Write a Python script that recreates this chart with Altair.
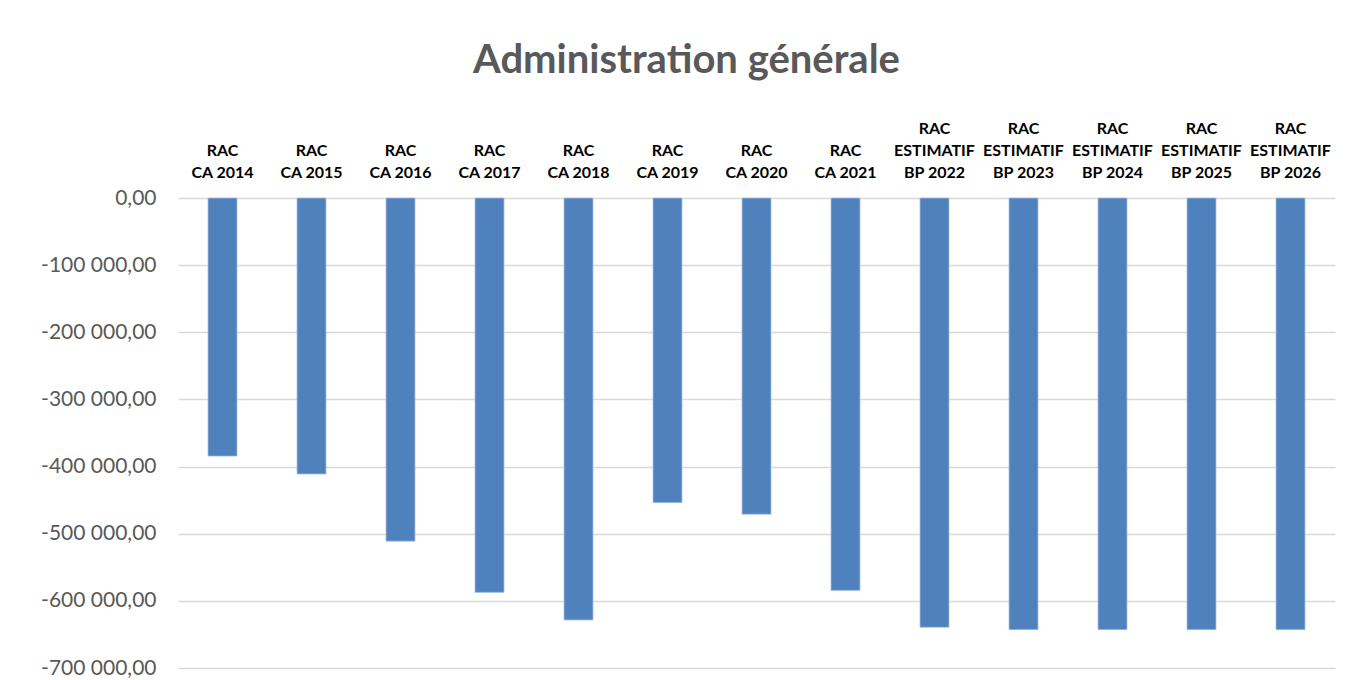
import altair as alt
import pandas as pd

categories = [
    "RAC|CA 2014", "RAC|CA 2015", "RAC|CA 2016", "RAC|CA 2017", "RAC|CA 2018",
    "RAC|CA 2019", "RAC|CA 2020", "RAC|CA 2021",
    "RAC|ESTIMATIF|BP 2022", "RAC|ESTIMATIF|BP 2023", "RAC|ESTIMATIF|BP 2024",
    "RAC|ESTIMATIF|BP 2025", "RAC|ESTIMATIF|BP 2026",
]
values = [
    -384400, -411100, -511100, -587400, -628500,
    -453700, -471000, -584400,
    -639400, -642900, -642900, -642900, -642900,
]
y_ticks = [0, -100000, -200000, -300000, -400000, -500000, -600000, -700000]

df = pd.DataFrame({"cat": categories, "val": values})

label_expr = (
    "(datum.value < 0 ? '-' : '') + "
    "replace(replace(format(abs(datum.value), ',.2f'), /,/g, ' '), '.', ',')"
)
x_label_expr = (
    "indexof(datum.label, 'ESTIMATIF') >= 0 ? split(datum.label, '|') "
    ": split(' |' + datum.label, '|')"
)

chart = (
    alt.Chart(df)
    .mark_bar(size=29, color="#4F81BD", stroke="#A9C1DF", strokeWidth=0.8)
    .encode(
        x=alt.X(
            "cat:N",
            sort=categories,
            title=None,
            axis=alt.Axis(
                orient="top",
                labelAngle=0,
                labelExpr=x_label_expr,
                labelFont="Lato",
                labelFontWeight="bold",
                labelFontSize=16,
                labelColor="#000000",
                labelLineHeight=22,
                labelBaseline="bottom",
                labelPadding=62,
                domain=False,
                ticks=False,
                grid=False,
            ),
        ),
        y=alt.Y(
            "val:Q",
            title=None,
            scale=alt.Scale(domain=[-700000, 0], nice=False),
            axis=alt.Axis(
                values=y_ticks,
                labelExpr=label_expr,
                labelFont="Lato",
                labelFontSize=21,
                labelColor="#595959",
                labelPadding=22,
                domain=False,
                ticks=False,
                grid=True,
                gridColor="#D9D9D9",
                gridWidth=1.5,
            ),
        ),
    )
    .properties(
        width=1157,
        height=470,
        title=alt.TitleParams(
            "Administration générale",
            font="Lato",
            fontSize=40,
            fontWeight="bold",
            color="#595959",
            anchor="middle",
            dx=-70,
            offset=39,
        ),
        padding={"left": 170, "top": 190, "right": 20, "bottom": 10},
        autosize=alt.AutoSizeParams(type="none"),
    )
    .configure(background="white")
    .configure_view(stroke="transparent", strokeWidth=0)
)

chart.save("out.html", embed_options={"renderer": "svg", "actions": False})
